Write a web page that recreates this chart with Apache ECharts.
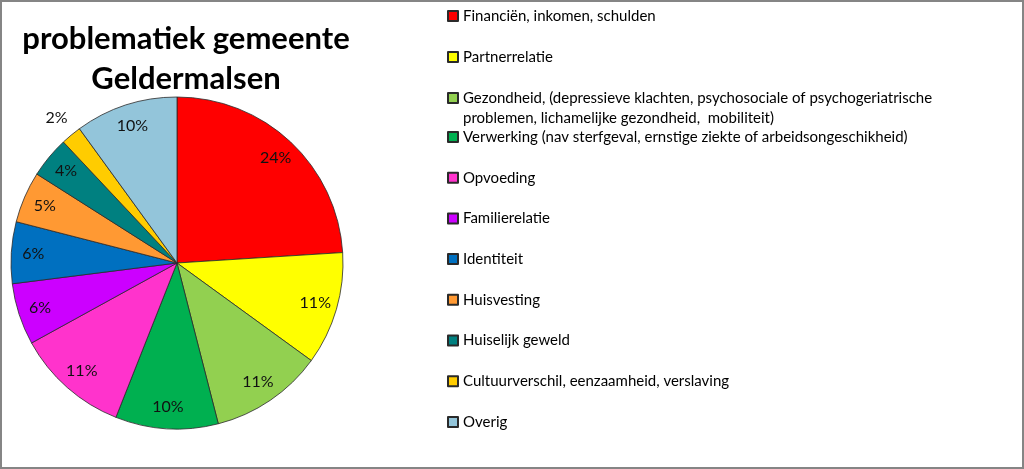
<!DOCTYPE html>
<html>
<head>
<meta charset="utf-8">
<script src="https://cdn.jsdelivr.net/npm/echarts@6/dist/echarts.min.js"></script>
<style>
html,body{margin:0;padding:0;background:#fff;}
#chart{width:1024px;height:469px;}
</style>
</head>
<body>
<div id="chart"></div>
<script>
const titleText = 'problematiek gemeente\nGeldermalsen';
const categories = [
  'Financiën, inkomen, schulden',
  'Partnerrelatie',
  'Gezondheid, (depressieve klachten, psychosociale of psychogeriatrische\nproblemen, lichamelijke gezondheid,  mobiliteit)',
  'Verwerking (nav sterfgeval, ernstige ziekte of arbeidsongeschikheid)',
  'Opvoeding',
  'Familierelatie',
  'Identiteit',
  'Huisvesting',
  'Huiselijk geweld',
  'Cultuurverschil, eenzaamheid, verslaving',
  'Overig'
];
const values = [24, 11, 11, 10, 11, 6, 6, 5, 4, 2, 10];
const colors = ['#FF0000', '#FFFF00', '#92D050', '#00B050', '#FF33CC', '#CC00FF', '#0070C0', '#FF9933', '#008080', '#FFCC00', '#93C5DA'];
const outsideLabelIndex = 9;

const FONT = 'Lato, "Open Sans", sans-serif';
const cx = 177, cy = 263, R = 166;

const mainData = categories.map((c, i) => ({ name: c, value: values[i], itemStyle: { color: colors[i] } }));
const innerLabelData = categories.map((c, i) => ({ name: c, value: values[i], label: { show: i !== outsideLabelIndex } }));
const outerLabelData = categories.map((c, i) => ({ name: c, value: values[i], label: { show: i === outsideLabelIndex } }));

const chart = echarts.init(document.getElementById('chart'), null, { renderer: 'canvas' });
const labelStyle = { fontFamily: FONT, fontSize: 16, color: '#111' };
const pct = p => Math.round(p.percent) + '%';
const legendText = { fontFamily: FONT, fontSize: 15, lineHeight: 20, color: '#000' };

chart.setOption({
  animation: false,
  backgroundColor: '#fff',
  title: {
    text: titleText,
    left: 181, top: 14,
    textAlign: 'center',
    textStyle: { fontFamily: FONT, fontWeight: 'bold', fontSize: 31, lineHeight: 40, color: '#000' }
  },
  graphic: [{
    type: 'rect', silent: true,
    shape: { x: 1, y: 1, width: 1022, height: 467 },
    style: { fill: 'none', stroke: '#858585', lineWidth: 2 }
  }],
  legend: [
    {
      orient: 'vertical', left: 447, top: 6, padding: 0, itemGap: 21,
      itemWidth: 10, itemHeight: 10, icon: 'rect', selectedMode: false,
      data: categories.slice(0, 2),
      textStyle: legendText
    },
    {
      orient: 'vertical', left: 447, top: 68, padding: 0, itemGap: 21,
      itemWidth: 10, itemHeight: 10, icon: 'rect', selectedMode: false,
      data: categories.slice(2, 3),
      formatter: name => '\n' + name,
      textStyle: legendText
    },
    {
      orient: 'vertical', left: 447, top: 127, padding: 0, itemGap: 20.7,
      itemWidth: 10, itemHeight: 10, icon: 'rect', selectedMode: false,
      data: categories.slice(3),
      textStyle: legendText
    }
  ],
  series: [
    {
      type: 'pie', center: [cx, cy], radius: [0, R], startAngle: 90, clockwise: true,
      silent: true, label: { show: false }, labelLine: { show: false },
      itemStyle: { borderColor: '#2a2a2a', borderWidth: 0.8 },
      emphasis: { disabled: true },
      data: mainData
    },
    {
      type: 'pie', center: [cx, cy], radius: [116, R], startAngle: 90, clockwise: true,
      silent: true, itemStyle: { color: 'rgba(0,0,0,0)', borderWidth: 0 },
      label: Object.assign({ position: 'inside', formatter: pct }, labelStyle),
      labelLine: { show: false }, emphasis: { disabled: true },
      data: innerLabelData
    },
    {
      type: 'pie', center: [cx, cy], radius: [176, 196], startAngle: 90, clockwise: true,
      silent: true, itemStyle: { color: 'rgba(0,0,0,0)', borderWidth: 0 },
      label: Object.assign({ position: 'inside', formatter: pct }, labelStyle),
      labelLine: { show: false }, emphasis: { disabled: true },
      data: outerLabelData
    }
  ]
});
</script>
</body>
</html>
